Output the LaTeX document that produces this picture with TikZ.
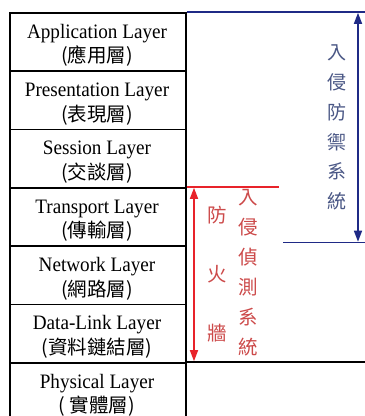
\documentclass[tikz,border=0pt]{standalone}
\usepackage{fontspec}
\setmainfont{Liberation Serif}[FakeStretch=0.935]
\newfontfamily\cjk{Noto Sans CJK TC}
\usetikzlibrary{arrows.meta}
\definecolor{ipsblue}{HTML}{1F2A86}
\definecolor{ipstext}{HTML}{4A5785}
\definecolor{fwred}{HTML}{E8232A}
\definecolor{fwtext}{HTML}{CC4A4A}
\begin{document}
\begin{tikzpicture}[x=1pt,y=-1pt,
  layerbox/.style={draw=black, line width=1.6pt, minimum width=176pt, minimum height=58.33pt, inner sep=0pt, anchor=north west},
  entext/.style={font=\fontsize{20.5}{22}\selectfont, anchor=base, inner sep=0pt},
  zhtext/.style={font=\cjk\fontsize{19.5}{22}\selectfont, anchor=center, inner sep=0pt},
  bluearrow/.style={draw=ipsblue, line width=1.5pt, {Triangle[length=11pt,width=8pt]}-{Triangle[length=11pt,width=8pt]}},
  redarrow/.style={draw=fwred, line width=1.5pt, {Triangle[length=11pt,width=8pt]}-{Triangle[length=11pt,width=8pt]}},
  blueline/.style={draw=ipsblue, line width=1.6pt},
  redline/.style={draw=fwred, line width=1.6pt},
  vtext/.style={align=center, inner sep=0pt}
]
\useasboundingbox (0,0) rectangle (365,416);
\clip (0,0) rectangle (365,416);

% layer boxes
\node[layerbox] (app)  at (9,12) {};
\node[layerbox] (pres) at (9,70.33) {};
\node[layerbox] (sess) at (9,128.67) {};
\node[layerbox] (trans) at (9,187) {};
\node[layerbox] (net)  at (9,245.33) {};
\node[layerbox] (dl)   at (9,303.67) {};
\node[layerbox] (phy)  at (9,362) {};

% layer texts
\node[entext] (appen) at (97,38) {Application Layer};
\node[zhtext] (appzh) at (97,56.5) {(應用層)};
\node[entext] (presen) at (97,96.33) {Presentation Layer};
\node[zhtext] (preszh) at (97,114.83) {(表現層)};
\node[entext] (sessen) at (97,154.67) {Session Layer};
\node[zhtext] (sesszh) at (97,173.17) {(交談層)};
\node[entext] (transen) at (97,213) {Transport Layer};
\node[zhtext] (transzh) at (97,231.5) {(傳輸層)};
\node[entext] (neten) at (97,271.33) {Network Layer};
\node[zhtext] (netzh) at (97,289.83) {(網路層)};
\node[entext] (dlen) at (97,329.67) {Data-Link Layer};
\node[zhtext] (dlzh) at (97,348.17) {(資料鏈結層)};
\node[entext] (phyen) at (97,388) {Physical Layer};
\node[zhtext] (phyzh) at (97,406.5) {( 實體層)};

% lower horizontal line extending right
\coordinate (phyR) at (365,362);
\draw[line width=1.6pt] (phy.north east) -- (phyR);

% IPS (blue)
\coordinate (ipsTR) at (365,12);
\coordinate (ipsBL) at (283,242.5);
\coordinate (ipsBR) at (365,242.5);
\coordinate (ipsTop) at (358,12.8);
\coordinate (ipsBot) at (358,241.7);
\draw[blueline] (app.north east) -- (ipsTR);
\draw[blueline] (ipsBL) -- (ipsBR);
\draw[bluearrow] (ipsTop) -- (ipsBot);
\node[vtext, text=ipstext, font=\cjk\fontsize{19}{29.8}\selectfont] (ips) at (337,127.5) {入\\侵\\防\\禦\\系\\統};

% Firewall / IDS (red)
\coordinate (fwR) at (279,187);
\coordinate (fwTop) at (194,187.8);
\coordinate (fwBot) at (194,361.2);
\draw[redline] (trans.north east) -- (fwR);
\draw[redarrow] (fwTop) -- (fwBot);
\node[vtext, text=fwtext, font=\cjk\fontsize{19.5}{59}\selectfont] (fw) at (217,274) {防\\火\\牆};
\node[vtext, text=fwtext, font=\cjk\fontsize{19.5}{30}\selectfont] (ids) at (248,272.5) {入\\侵\\偵\\測\\系\\統};
\end{tikzpicture}
\end{document}
